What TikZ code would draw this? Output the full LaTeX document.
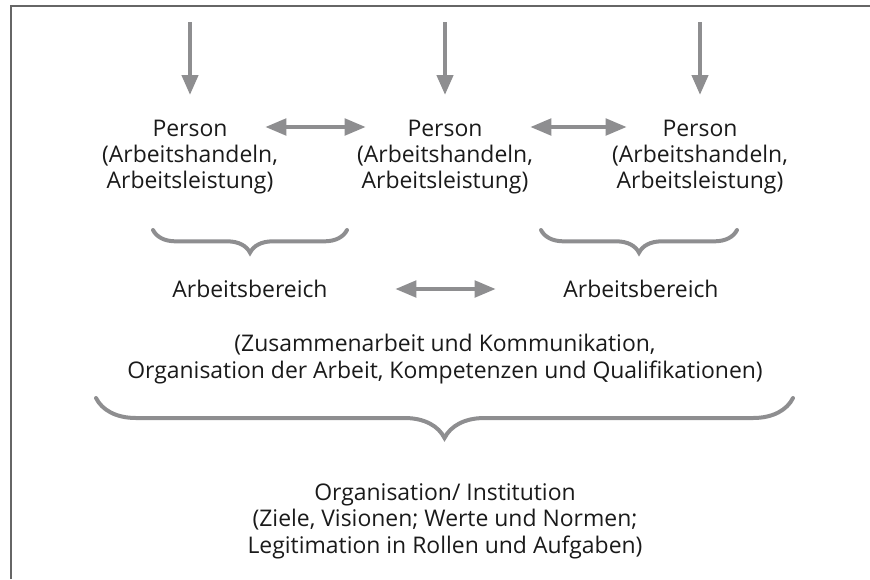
\documentclass[tikz,border=0pt]{standalone}
\usepackage{fontspec}
\setmainfont{Open Sans}
\usetikzlibrary{positioning,arrows.meta,decorations.pathreplacing}
\definecolor{arrgray}{HTML}{8E8E90}
\definecolor{txtdark}{HTML}{1A1A1A}
\begin{document}
\begin{tikzpicture}[x=0.75pt,y=-0.75pt,
  every node/.style={font=\fontsize{17.2}{19.8}\selectfont,text=txtdark,align=center},
  arr/.style={arrgray,line width=3.2pt,-{Triangle[length=15pt,width=12pt]}},
  darr/.style={arrgray,line width=3.6pt,{Triangle[length=16pt,width=12pt]}-{Triangle[length=16pt,width=12pt]}},
  brc/.style={arrgray,line width=3pt,line cap=round,decorate,decoration={brace,mirror,raise=0pt}}]
\useasboundingbox (0,0) rectangle (870,579);
% frame (top and left only)
\draw[gray!80!black,line width=1.5pt] (11,579) -- (11,6) -- (870,6);
% persons
\node (p1) at (190,157) {Person\\(Arbeitshandeln,\\Arbeitsleistung)};
\node (p2) at (445,157) {Person\\(Arbeitshandeln,\\Arbeitsleistung)};
\node (p3) at (700,157) {Person\\(Arbeitshandeln,\\Arbeitsleistung)};
\coordinate (in1) at (190,22);
\coordinate (in2) at (445,22);
\coordinate (in3) at (700,22);
\draw[arr] (in1) -- (190,95);
\draw[arr] (in2) -- (445,95);
\draw[arr] (in3) -- (700,95);
\coordinate (l12) at (265,127);
\coordinate (r12) at (366,127);
\coordinate (l23) at (530,127);
\coordinate (r23) at (627,127);
\draw[darr] (l12) -- (r12);
\draw[darr] (l23) -- (r23);
% work areas
\node (b1) at (250,289) {Arbeitsbereich};
\node (b2) at (641,289) {Arbeitsbereich};
\draw[brc,decoration={amplitude=17pt}] (153,230) -- (347,230);
\draw[brc,decoration={amplitude=17pt}] (541,230) -- (737,230);
\coordinate (lb) at (395,289);
\coordinate (rb) at (496,289);
\draw[darr] (lb) -- (rb);
% collaboration
\node (koop) at (445,359) {(Zusammenarbeit und Kommunikation,\\Organisation der Arbeit, Kompetenzen und Qualifikationen)};
\draw[brc,decoration={amplitude=30pt}] (96,398) -- (793,398);
% institution
\node (org) at (445,521) {Organisation/ Institution\\(Ziele, Visionen; Werte und Normen;\\Legitimation in Rollen und Aufgaben)};
\end{tikzpicture}
\end{document}
